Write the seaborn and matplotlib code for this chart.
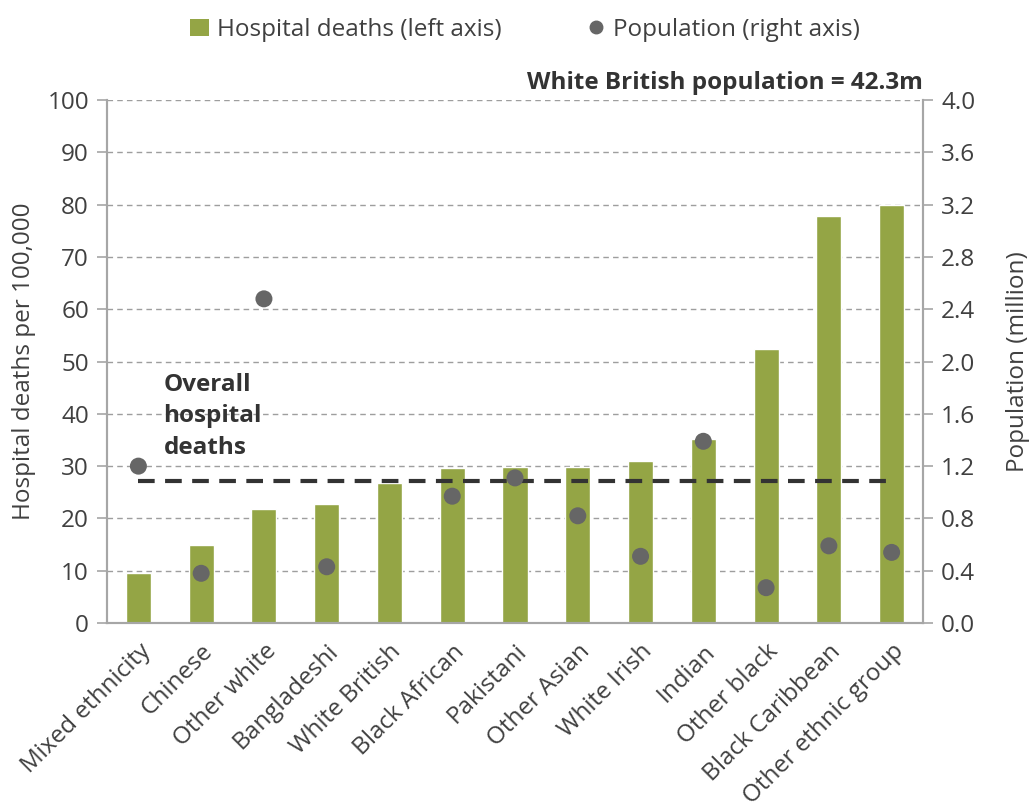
import numpy as np
import pandas as pd
import seaborn as sns
import matplotlib.pyplot as plt
from matplotlib.lines import Line2D
from matplotlib.patches import Patch

# values
groups = ["Mixed ethnicity", "Chinese", "Other white", "Bangladeshi", "White British",
          "Black African", "Pakistani", "Other Asian", "White Irish", "Indian",
          "Other black", "Black Caribbean", "Other ethnic group"]
deaths = [9.6, 14.9, 21.8, 22.8, 26.8, 29.6, 29.8, 29.8, 31.0, 35.2, 52.5, 77.8, 79.9]
population = [1.2, 0.38, 2.48, 0.43, 42.3, 0.97, 1.11, 0.82, 0.51, 1.39, 0.27, 0.59, 0.54]
overall_deaths = 27.1
left_ticks = np.arange(0, 101, 10)
right_ticks = np.arange(0, 4.01, 0.4)

GREEN = "#94A545"
DOT = "#666666"
TEXT = "#404040"
SPINE = "#A6A6A6"

sns.set_style("white")
plt.rcParams["font.family"] = ["Open Sans", "DejaVu Sans"]
plt.rcParams["font.size"] = 17.5
plt.rcParams["text.color"] = TEXT
plt.rcParams["axes.labelcolor"] = TEXT
plt.rcParams["xtick.color"] = TEXT
plt.rcParams["ytick.color"] = TEXT

df = pd.DataFrame({"group": groups, "deaths": deaths, "population": population})
df["pos"] = np.arange(len(df))

fig = plt.figure(figsize=(10.29, 8.08), dpi=100)
ax = fig.add_axes([0.104, 0.229, 0.793, 0.647])

sns.barplot(data=df, x="group", y="deaths", color=GREEN, width=0.4,
            saturation=1, ax=ax, zorder=2)
ax.set_xlim(-0.5, len(groups) - 0.5)
ax.set_ylim(0, 100)
ax.set_yticks(left_ticks)
ax.set_ylabel("Hospital deaths per 100,000", labelpad=8)
ax.set_xlabel("")
ax.yaxis.grid(True, linestyle=(0, (4, 3)), color="#9E9E9E", linewidth=1)
ax.set_axisbelow(True)

# category ticks sit between the bars
ax.set_xticks(np.arange(len(groups)))
ax.set_xticklabels(groups, rotation=45, ha="right", rotation_mode="anchor")
ax.tick_params(axis="x", length=0, pad=12)
ax.set_xticks(np.arange(-0.5, len(groups)), minor=True)
ax.tick_params(axis="x", which="minor", length=8, width=1.2, color=SPINE)
ax.tick_params(axis="y", length=7, width=1.2, color=SPINE, pad=6)

# overall average line
ax.plot([df["pos"].iloc[0], df["pos"].iloc[-1]], [overall_deaths, overall_deaths],
        color="#333333", linewidth=3, linestyle=(0, (4, 2.5)), zorder=3)
ax.text(0.4, 39.5, "Overall\nhospital\ndeaths", fontweight="bold", color="#333333",
        ha="left", va="center", linespacing=1.4)

ax2 = ax.twinx()
sns.scatterplot(data=df, x="pos", y="population", color=DOT, s=150,
                edgecolor="none", ax=ax2, zorder=4, legend=False)
ax2.set_ylim(0, 4)
ax2.set_yticks(right_ticks)
ax2.set_yticklabels([f"{t:.1f}" for t in right_ticks])
ax2.set_ylabel("Population (million)", labelpad=22)
ax2.set_xlabel("")
ax2.tick_params(axis="y", length=7, width=1.2, color=SPINE, pad=6)
ax2.set_xlim(-0.5, len(groups) - 0.5)

for a in (ax, ax2):
    a.spines["top"].set_visible(False)
    for side in ("left", "right", "bottom"):
        a.spines[side].set_color(SPINE)
        a.spines[side].set_linewidth(1.5)

ax2.text(1.0, 1.01, "White British population = 42.3m", transform=ax2.transAxes,
         ha="right", va="bottom", fontweight="bold", color="#333333")

handles = [Patch(facecolor=GREEN, edgecolor="none", label="Hospital deaths (left axis)"),
           Line2D([], [], marker="o", linestyle="none", color=DOT, markersize=9,
                  label="Population (right axis)")]
fig.legend(handles=handles, loc="center", bbox_to_anchor=(0.51, 0.963), ncol=2,
           frameon=False, handlelength=0.8, handletextpad=0.3, columnspacing=3.5,
           fontsize=17.5)

fig.savefig("out.png", dpi=100)
